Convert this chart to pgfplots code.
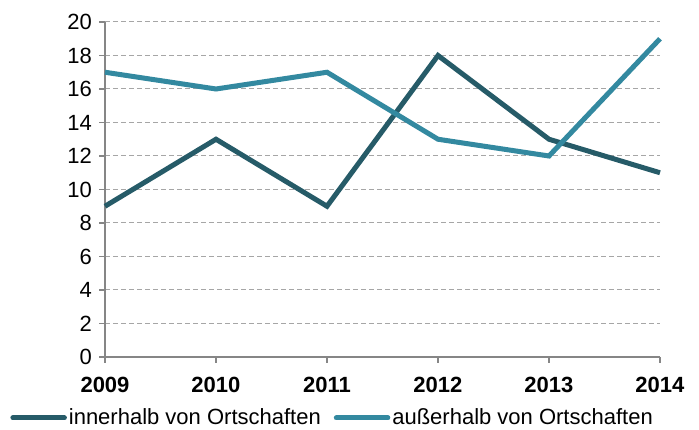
\documentclass[border=0pt]{standalone}
\usepackage{fontspec}
\setmainfont{Liberation Sans}
\usepackage{pgfplots}
\pgfplotsset{compat=1.18}
\definecolor{darkteal}{HTML}{265B68}
\definecolor{lightteal}{HTML}{3389A0}
\definecolor{axgray}{HTML}{868686}
\begin{document}
\begin{tikzpicture}
\begin{axis}[
  scale only axis,
  width=277.5pt, height=167.5pt,
  xmin=2009, xmax=2014, ymin=0, ymax=20,
  xtick={2009,...,2014},
  ytick={0,2,...,20},
  xticklabel style={font=\fontsize{11}{13}\selectfont\bfseries, yshift=-3.5pt},
  yticklabel style={font=\fontsize{11}{13}\selectfont},
  /pgf/number format/assume math mode=true,
  /pgf/number format/1000 sep={},
  axis x line*=bottom, axis y line*=left,
  axis line style={axgray, line width=0.8pt},
  ymajorgrids,
  grid style={gray!70, dash pattern=on 2.5pt off 1.5pt, line width=0.5pt},
  major tick length=3pt,
  ytick style={axgray, line width=0.8pt},
  xtick style={axgray, line width=0.8pt},
  tick align=outside,
  clip=false,
  legend columns=2,
  legend style={draw=none, fill=none, at={(rel axis cs:0,0)}, anchor=west,
    xshift=-47.5pt, yshift=-30.5pt,
    font=\fontsize{11}{13}\selectfont,
    nodes={inner sep=1pt},
    /tikz/every even column/.append style={column sep=5.5pt}, inner sep=0pt},
  legend cell align=left,
  legend image code/.code={\draw[#1, line width=2.5pt, line cap=round] (1.25pt,0pt) -- (27pt,0pt);},
]
\addplot[darkteal, line width=2.5pt] coordinates {(2009,9) (2010,13) (2011,9) (2012,18) (2013,13) (2014,11)};
\addlegendentry{innerhalb von Ortschaften}
\addplot[lightteal, line width=2.5pt] coordinates {(2009,17) (2010,16) (2011,17) (2012,13) (2013,12) (2014,19)};
\addlegendentry{außerhalb von Ortschaften}
\coordinate (sw) at (rel axis cs:0,0);
\coordinate (ne) at (rel axis cs:1,1);
\end{axis}
\useasboundingbox ([shift={(-52.5pt,-34pt)}]sw) rectangle ([shift={(19.5pt,11pt)}]ne);
\end{tikzpicture}
\end{document}
